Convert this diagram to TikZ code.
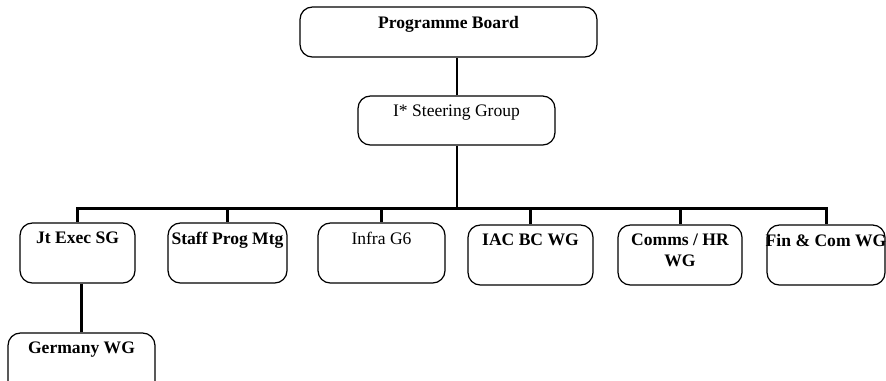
\documentclass[tikz,border=0pt]{standalone}
\usepackage{fontspec}
\setmainfont{Liberation Serif}

\tikzset{
  unit/.style={draw, rounded corners=7pt, line width=0.7pt, minimum height=1.2cm},
  link/.style={line width=1.7pt},
  every label/.style={anchor=north, yshift=-2pt, align=center, font=\bfseries}
}

\begin{document}
\begin{tikzpicture}[x=0.02cm, y=-0.02cm]
  \useasboundingbox (0,0) rectangle (886,380);

  \node[unit, minimum width=5.94cm, minimum height=1cm, label={north:Programme Board}] (board) at (448.5,32) {};
  \node[unit, minimum width=3.94cm, minimum height=0.98cm, label={[font=\mdseries]north:I* Steering Group}] (steer) at (456.5,120.5) {};

  \node[unit, minimum width=2.3cm,  label={north:Jt Exec SG}]     (jtexec) at (77.5,253) {};
  \node[unit, minimum width=2.38cm, label={north:Staff Prog Mtg}] (staff)  at (227.5,253) {};
  \node[unit, minimum width=2.54cm, label={[font=\mdseries]north:Infra G6}] (infra) at (381.5,253) {};
  \node[unit, minimum width=2.5cm,  label={north:IAC BC WG}]      (iac)    at (530.5,255) {};
  \node[unit, minimum width=2.48cm, label={north:Comms / HR\\WG}] (comms)  at (680,255) {};
  \node[unit, minimum width=2.36cm, label={north:Fin \& Com WG}]  (fincom) at (826,255) {};

  % runs off the bottom edge
  \node[unit, minimum width=2.94cm, label={north:Germany WG}] (germany) at (81.5,363) {};

  % bus under the steering group
  \coordinate (bus) at (457,208);

  \draw[link] (steer.north -| bus) -- (board.south -| bus);
  \draw[link] (steer.south -| bus) -- (bus);
  \foreach \n in {jtexec,staff,infra,iac,comms,fincom}
    \draw[link] (bus) -| (\n.north);
  \draw[link] (germany.north) -- (germany.north |- jtexec.south);

\end{tikzpicture}
\end{document}
